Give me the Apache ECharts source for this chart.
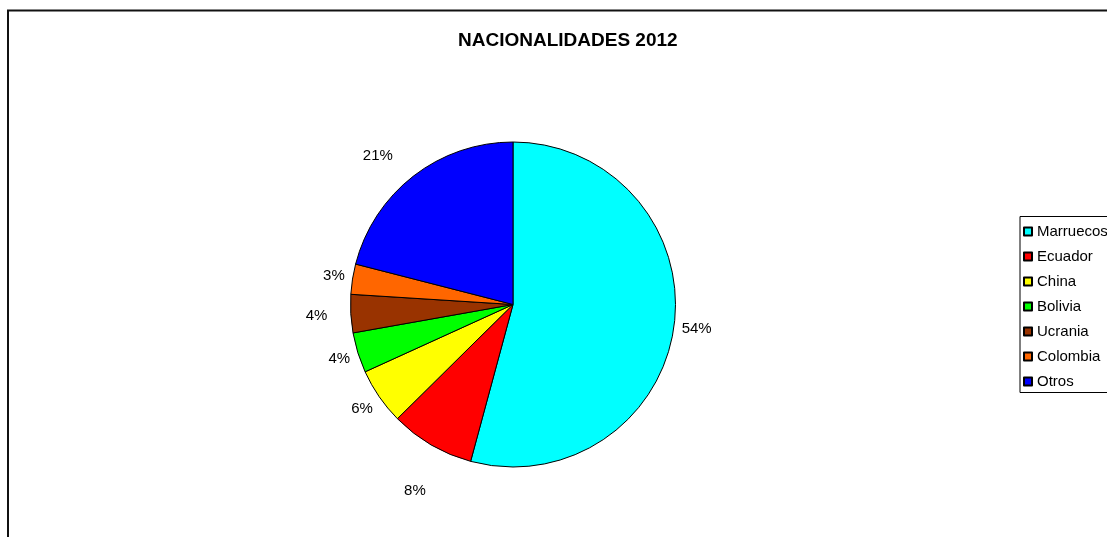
<!DOCTYPE html>
<html>
<head>
<meta charset="utf-8">
<script src="https://cdn.jsdelivr.net/npm/echarts@6/dist/echarts.min.js"></script>
<style>
html,body{margin:0;padding:0;background:#fff;}
#chart{width:1107px;height:537px;}
</style>
</head>
<body>
<div id="chart"></div>
<script>
var titleText = 'NACIONALIDADES 2012';
var categories = ['Marruecos', 'Ecuador', 'China', 'Bolivia', 'Ucrania', 'Colombia', 'Otros'];
var values = [54.2, 8.4, 5.6, 4.0, 3.8, 3.0, 21.0];
var colors = ['#00FFFF', '#FF0000', '#FFFF00', '#00FF00', '#993300', '#FF6600', '#0000FF'];

var CX = 513, CY = 304.5, R = 162.5;
var total = values.reduce(function (a, b) { return a + b; }, 0);
var mids = [];
(function () {
  var cum = 0;
  for (var i = 0; i < values.length; i++) {
    mids.push((cum + values[i] / 2) / total * Math.PI * 2);
    cum += values[i];
  }
})();
// label placement tweaks (distance in px, angle shift in degrees)
var extraGap = {1: 30, 2: 1, 4: 16, 6: 16};
var angleShift = {1: -2.5, 6: -4.5};

var chart = echarts.init(document.getElementById('chart'), null, {renderer: 'canvas'});
chart.setOption({
  animation: false,
  backgroundColor: '#ffffff',
  graphic: [{
    type: 'rect',
    shape: {x: 8, y: 10.5, width: 1300, height: 700},
    style: {fill: 'none', stroke: '#111', lineWidth: 2},
    silent: true
  }],
  title: {
    text: titleText,
    left: 453,
    top: 26,
    textStyle: {fontFamily: 'Liberation Sans, Arial', fontSize: 19, fontWeight: 'bold', color: '#000'}
  },
  legend: {
    orient: 'vertical',
    left: 1020,
    top: 216.5,
    icon: 'rect',
    itemWidth: 8,
    itemHeight: 8,
    itemGap: 9,
    padding: [7, 30, 3, 3],
    borderColor: '#000',
    borderWidth: 1,
    selectedMode: false,
    textStyle: {fontFamily: 'Liberation Sans, Arial', fontSize: 15, color: '#000', lineHeight: 16},
    data: categories
  },
  series: [{
    type: 'pie',
    center: [CX, CY],
    radius: R,
    startAngle: 90,
    clockwise: true,
    avoidLabelOverlap: false,
    color: colors,
    itemStyle: {borderColor: '#000', borderWidth: 1},
    emphasis: {disabled: true},
    label: {
      show: true,
      position: 'outside',
      fontFamily: 'Liberation Sans, Arial',
      fontSize: 15,
      color: '#000',
      formatter: function (p) { return Math.round(p.value / total * 100) + '%'; }
    },
    labelLine: {show: false},
    labelLayout: function (p) {
      var i = p.dataIndex;
      var a = mids[i] + (angleShift[i] || 0) * Math.PI / 180;
      var ux = Math.sin(a), uy = -Math.cos(a);
      var w = p.labelRect.width, h = 14;
      var ext = Math.abs(ux) * w / 2 + Math.abs(uy) * h / 2;
      var d = R + 7 + (extraGap[i] || 0) + ext;
      return {x: CX + ux * d, y: CY + uy * d, align: 'center', verticalAlign: 'middle'};
    },
    data: categories.map(function (c, i) { return {name: c, value: values[i]}; })
  }]
});
</script>
</body>
</html>
